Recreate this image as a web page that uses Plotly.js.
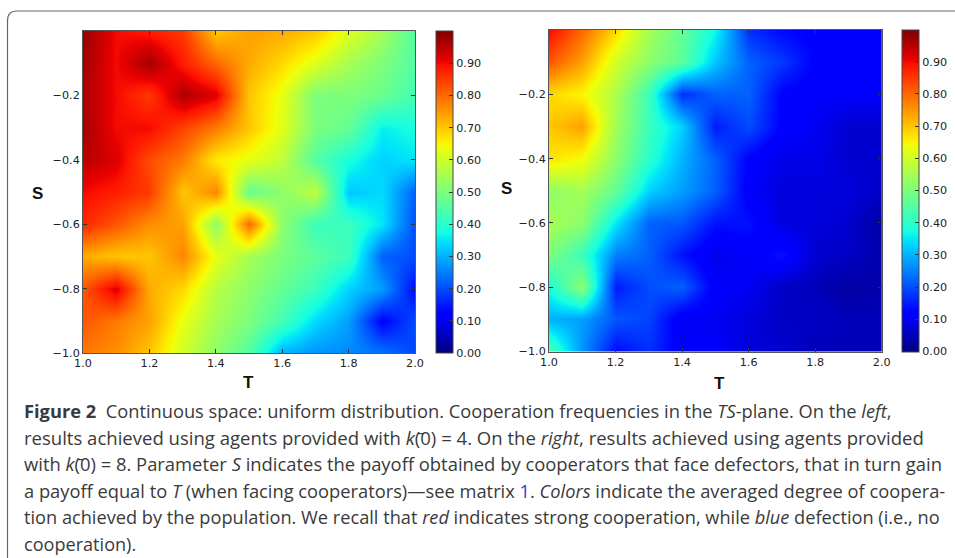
<!DOCTYPE html>
<html><head><meta charset="utf-8">
<script src="https://cdn.plot.ly/plotly-3.0.1.min.js"></script>
<style>html,body{margin:0;padding:0;background:#fff}#c{width:955px;height:558px}</style>
</head><body><div id="c"></div>
<script>
var tValues=[1.0,1.1,1.2,1.3,1.4,1.5,1.6,1.7,1.8,1.9,2.0];
var sValues=[0,-0.1,-0.2,-0.3,-0.4,-0.5,-0.6,-0.7,-0.8,-0.9,-1.0];
var leftZ=[
[.98,.90,.88,.85,.70,.74,.73,.70,.62,.55,.45],
[.97,.90,.97,.88,.80,.73,.68,.62,.55,.50,.45],
[.96,.90,.85,.96,.92,.70,.63,.50,.50,.48,.43],
[.97,.90,.90,.84,.78,.70,.62,.50,.47,.36,.38],
[.95,.92,.83,.78,.66,.63,.58,.45,.38,.33,.35],
[.90,.88,.85,.70,.77,.47,.52,.58,.32,.34,.22],
[.87,.82,.76,.74,.52,.80,.52,.42,.42,.35,.20],
[.73,.70,.70,.77,.63,.55,.50,.46,.42,.22,.20],
[.82,.92,.73,.68,.57,.52,.47,.42,.33,.28,.13],
[.82,.78,.74,.63,.55,.50,.43,.34,.28,.12,.20],
[.78,.76,.70,.60,.52,.45,.30,.27,.26,.24,.19]];
var rightZ=[
[.90,.80,.68,.55,.47,.37,.17,.13,.12,.11,.11],
[.82,.74,.60,.52,.46,.32,.22,.18,.12,.12,.12],
[.68,.65,.56,.42,.17,.22,.22,.12,.11,.11,.11],
[.70,.74,.54,.42,.33,.15,.20,.12,.10,.07,.07],
[.67,.64,.52,.40,.30,.22,.12,.09,.09,.07,.07],
[.52,.55,.47,.33,.28,.22,.11,.08,.08,.08,.06],
[.55,.52,.35,.22,.21,.14,.14,.08,.08,.07,.03],
[.50,.42,.25,.22,.14,.09,.11,.14,.07,.06,.04],
[.38,.52,.15,.20,.22,.11,.10,.06,.05,.03,.04],
[.30,.28,.21,.19,.10,.10,.08,.06,.06,.05,.05],
[.45,.27,.13,.17,.11,.11,.08,.07,.05,.05,.05]];
var xTicks=[1.0,1.2,1.4,1.6,1.8,2.0];
var yTicks=[-1.0,-0.8,-0.6,-0.4,-0.2];
var barTicks=[0,.1,.2,.3,.4,.5,.6,.7,.8,.9];
var jet=[[0,'rgb(0,0,127)'],[.11,'rgb(0,0,255)'],[.125,'rgb(0,0,255)'],[.34,'rgb(0,219,255)'],[.35,'rgb(0,230,247)'],[.375,'rgb(21,255,226)'],[.64,'rgb(239,255,8)'],[.65,'rgb(247,246,0)'],[.66,'rgb(255,236,0)'],[.89,'rgb(255,19,0)'],[.91,'rgb(232,0,0)'],[1,'rgb(127,0,0)']];
var captionLines=[
'<b>Figure 2</b>  Continuous space: uniform distribution. Cooperation frequencies in the <i>TS</i>-plane. On the <i>left</i>,',
'results achieved using agents provided with <i>k</i>(\u03040) = 4. On the <i>right</i>, results achieved using agents provided',
'with <i>k</i>(\u03040) = 8. Parameter <i>S</i> indicates the payoff obtained by cooperators that face defectors, that in turn gain',
'a payoff equal to <i>T</i> (when facing cooperators)\u2014see matrix <span style="color:#3a3ad0">1</span>. <i>Colors</i> indicate the averaged degree of coopera-',
'tion achieved by the population. We recall that <i>red</i> indicates strong cooperation, while <i>blue</i> defection (i.e., no',
'cooperation).'];
var captionSizes=[18.28,18.55,18.4,18.3,18.2,18.1];
var W=955,H=558;
function px(v){return v/W;}
function py(v){return 1-v/H;}
var tickFont={family:'"DejaVu Sans",sans-serif',size:11.2,color:'#222'};
function hm(z,xa,ya,cbx,top,bottom){
  return {type:'heatmap',x:tValues,y:sValues,z:z,xaxis:xa,yaxis:ya,zsmooth:'best',zmin:0,zmax:1,colorscale:jet,
    colorbar:{x:px(cbx),xanchor:'left',xpad:0,ypad:0,thickness:16.5,thicknessmode:'pixels',
      y:py(bottom),yanchor:'bottom',len:(bottom-top)/H,lenmode:'fraction',
      tickvals:barTicks,tickformat:'.2f',ticks:'inside',ticklen:4,tickcolor:'#333',tickfont:tickFont,
      outlinecolor:'#444',outlinewidth:1}};
}
function axis(dom,ticks,range,anchor){
  return {domain:dom,range:range,tickvals:ticks,tickformat:'.1f',ticks:'inside',ticklen:4,tickcolor:'#333',
    tickfont:tickFont,showline:true,linecolor:'#555',linewidth:1,mirror:'ticks',showgrid:false,zeroline:false,anchor:anchor};
}
var traces=[hm(leftZ,'x','y',435.5,31,353),hm(rightZ,'x2','y2',901.7,30,351.5)];
var ann=[];
captionLines.forEach(function(t,i){
  ann.push({xref:'paper',yref:'paper',x:px(22),y:py(410.5+26.6*i),xanchor:'left',yanchor:'middle',showarrow:false,align:'left',
    text:t,font:{family:'"Open Sans",sans-serif',size:captionSizes[i],color:'#3a3a3a'}});
});
function lab(t,x,y){return {xref:'paper',yref:'paper',x:px(x),y:py(y),xanchor:'center',yanchor:'middle',showarrow:false,text:'<b>'+t+'</b>',
  font:{family:'"Liberation Sans",sans-serif',size:17,color:'#111'}};}
ann.push(lab('S',37,193),lab('S',506,189),lab('T',249,382),lab('T',719,383));
var layout={width:W,height:H,margin:{l:0,r:0,t:0,b:0},paper_bgcolor:'#fff',plot_bgcolor:'#fff',showlegend:false,
  xaxis:axis([px(83),px(415)],xTicks,[1,2],'y'),
  yaxis:axis([py(353),py(31)],yTicks,[-1,0],'x'),
  xaxis2:axis([px(549),px(881.7)],xTicks,[1,2],'y2'),
  yaxis2:axis([py(351.5),py(30)],yTicks,[-1,0],'x2'),
  annotations:ann,
  shapes:[{type:'path',xref:'paper',yref:'paper',
    path:'M '+px(7.5)+' 0 L '+px(7.5)+' '+py(21)+' Q '+px(7.5)+' '+py(11)+' '+px(17)+' '+py(11)+' L 1 '+py(11),
    line:{color:'#666',width:1.2}}]};
Plotly.newPlot('c',traces,layout,{displayModeBar:false,staticPlot:true});
</script></body></html>
